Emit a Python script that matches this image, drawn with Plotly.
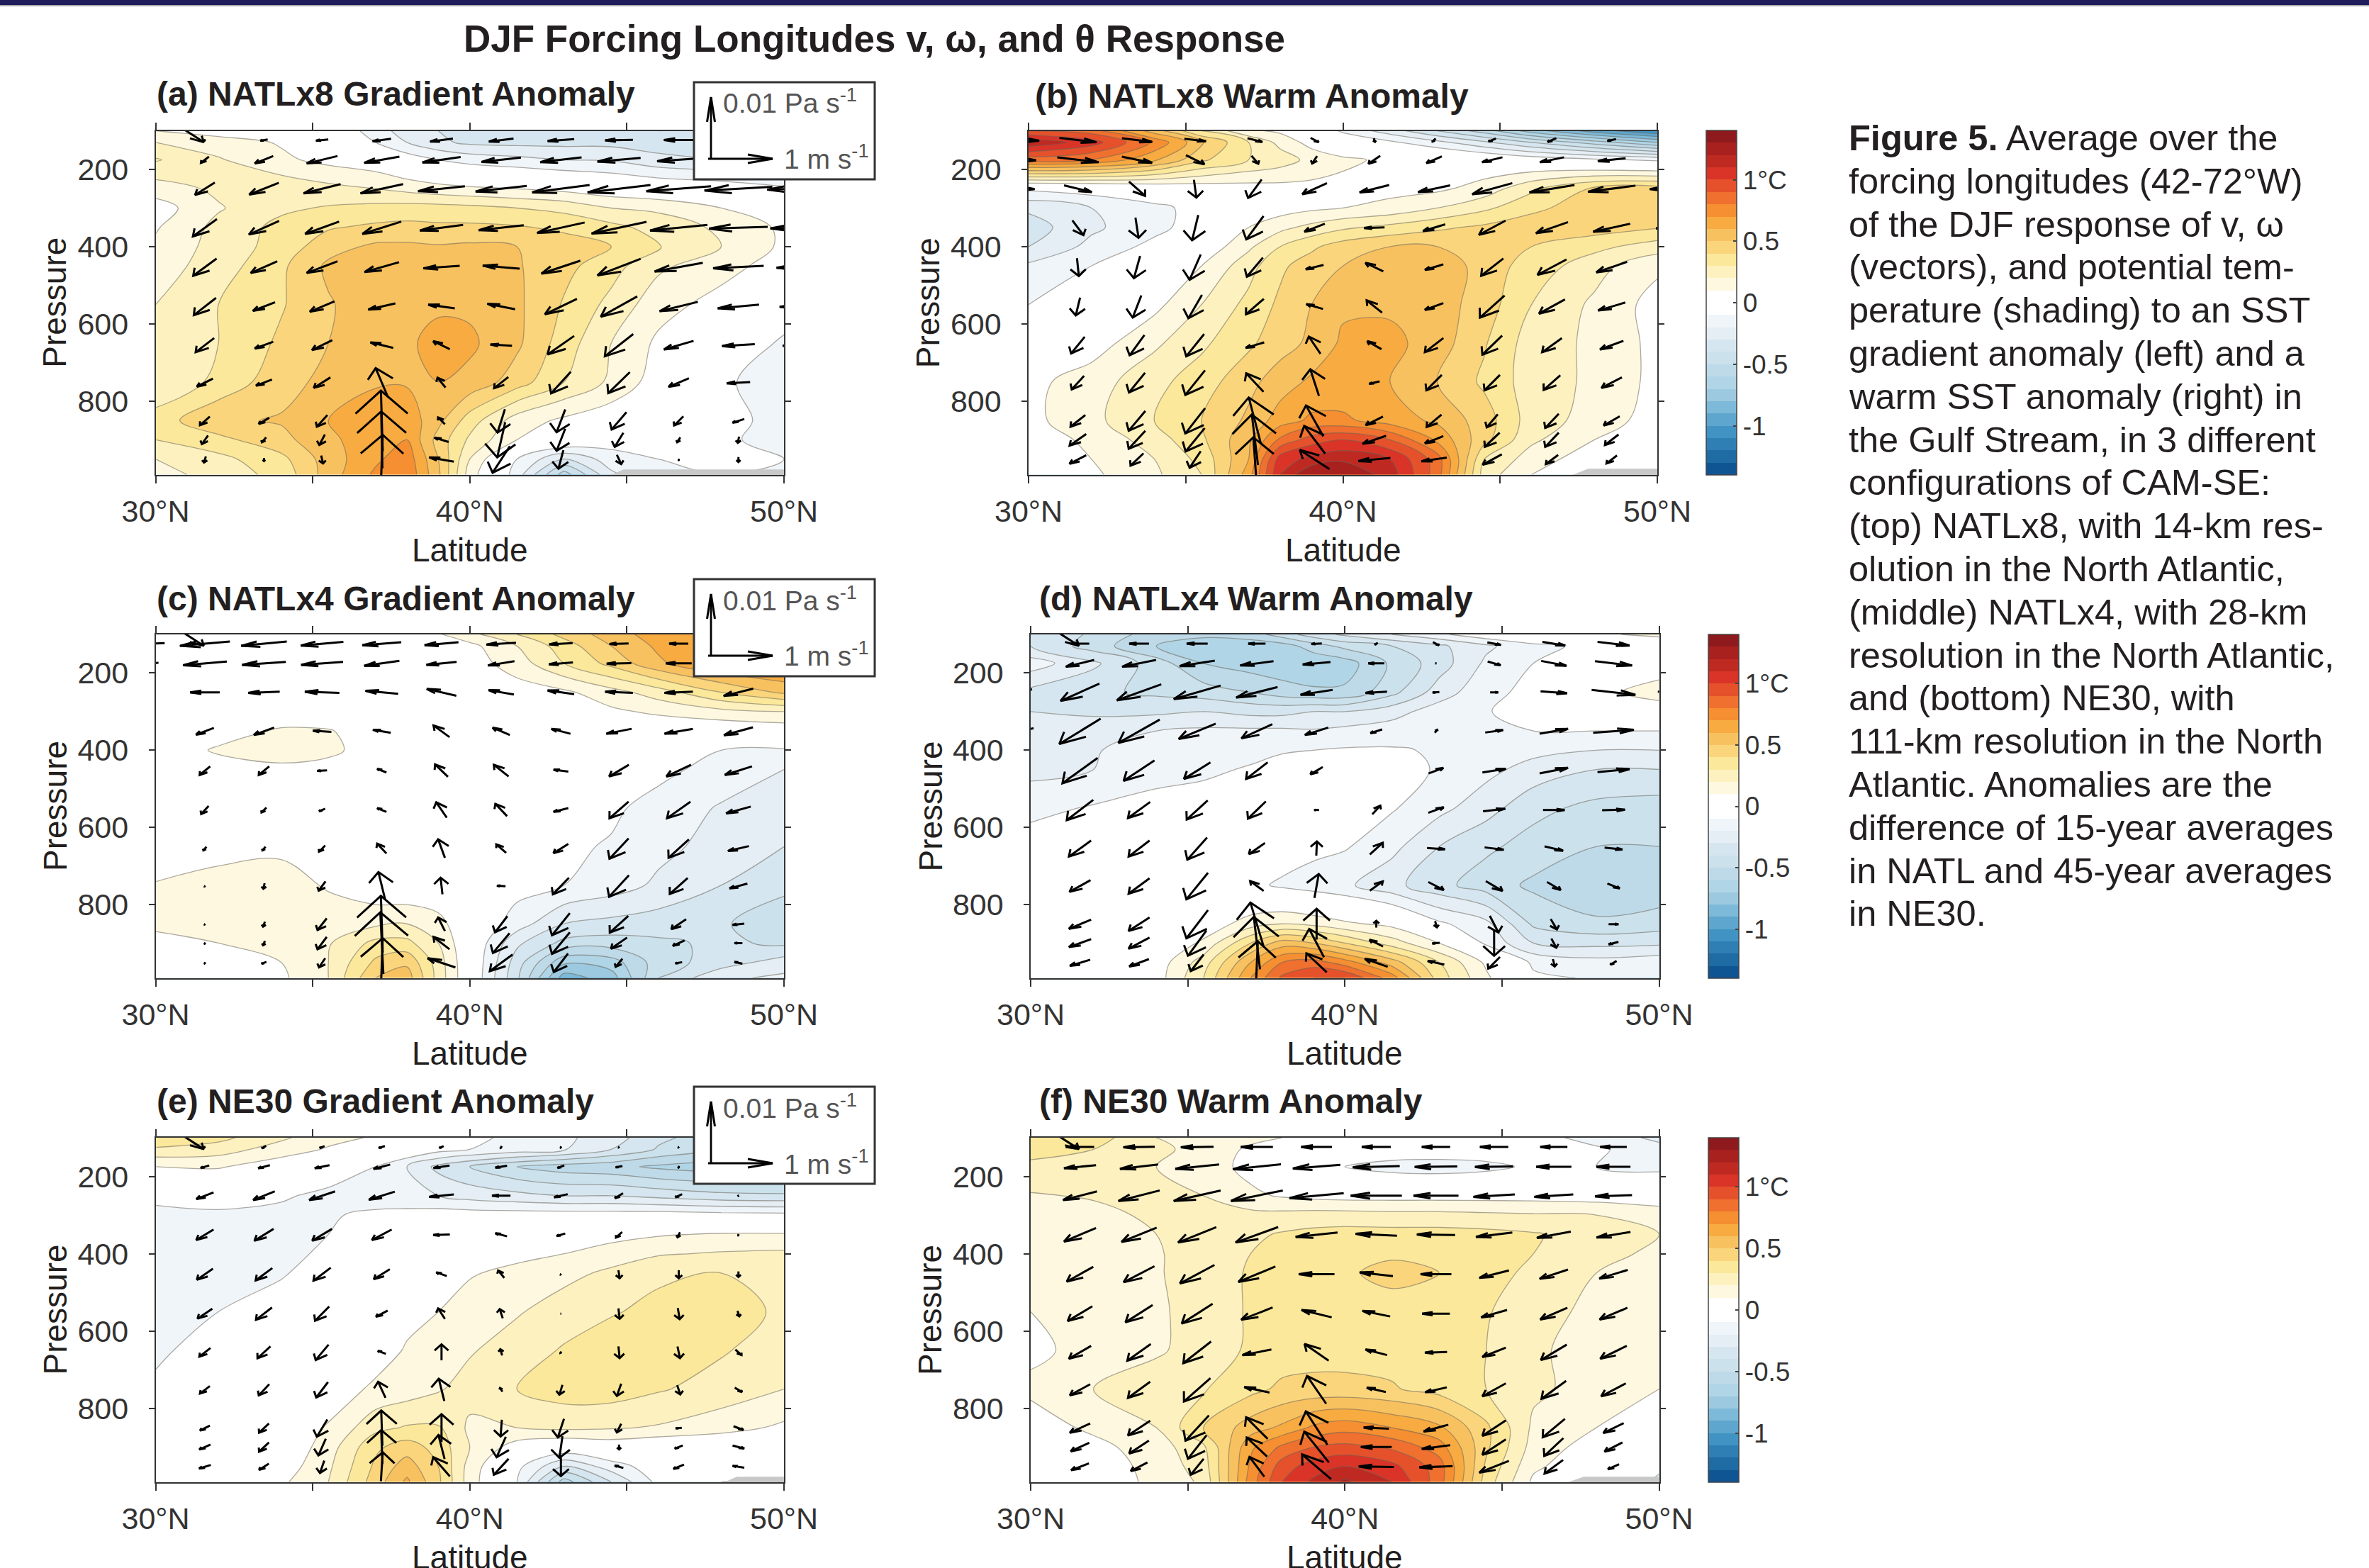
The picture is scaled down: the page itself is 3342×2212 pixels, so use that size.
import plotly.graph_objects as go

W_PX, H_PX = 3342, 2212

# ---- contour grid
lat_grid = [30, 32, 34, 35.5, 37, 38, 39, 40, 41.5, 43, 44.5, 46, 48, 50]
p_grid = [100, 130, 175, 250, 300, 350, 400, 450, 550, 650, 750, 850, 900, 950, 990]

theta_a = [
[.1,.05,.05,0,-.15,-.25,-.3,-.35,-.38,-.38,-.38,-.4,-.4,-.4],
[.2,.15,.09,.02,-.1,-.2,-.28,-.32,-.33,-.33,-.33,-.35,-.37,-.4],
[.31,.21,.12,.07,.03,-.04,-.1,-.14,-.17,-.2,-.21,-.27,-.3,-.32],
[.15,.22,.27,.23,.2,.17,.14,.12,.1,.07,.03,0,-.03,-.08],
[.05,.19,.28,.31,.33,.34,.34,.33,.3,.27,.2,.18,.1,.03],
[.09,.23,.33,.39,.42,.43,.42,.42,.41,.38,.33,.26,.18,.08],
[.12,.24,.34,.46,.52,.52,.51,.52,.5,.45,.4,.31,.2,.08],
[.15,.25,.38,.52,.56,.57,.56,.56,.51,.43,.34,.22,.14,.05],
[.2,.3,.39,.49,.56,.58,.59,.58,.52,.39,.27,.14,.06,-.03],
[.21,.3,.42,.5,.57,.59,.62,.62,.52,.35,.2,.08,0,-.12],
[.2,.33,.46,.53,.59,.59,.6,.57,.45,.3,.18,.05,-.09,-.13],
[.35,.48,.51,.6,.65,.66,.53,.35,.15,.08,.03,-.02,-.08,-.12],
[.3,.37,.47,.57,.68,.7,.46,.28,.1,.03,-.05,-.05,-.09,-.12],
[.2,.27,.37,.55,.68,.76,.5,.2,-.1,-.3,-.15,-.1,-.1,-.1],
[.15,.25,.33,.55,.72,.78,.52,.15,-.15,-.55,-.22,-.12,-.1,-.12]]

theta_b = [
[.9,.85,.55,.3,.12,.08,0,-.12,-.25,-.4,-.55,-.75,-.95,-1.1],
[1.18,1.05,.78,.52,.3,.17,.06,0,-.08,-.17,-.28,-.4,-.55,-.7],
[.85,.8,.62,.42,.3,.25,.17,.12,.08,.06,.02,-.03,-.08,-.12],
[-.08,-.05,0,.03,.05,.06,.07,.07,.07,.08,.14,.28,.42,.45],
[-.28,-.2,-.13,-.06,0,.05,.08,.1,.13,.2,.28,.37,.47,.47],
[-.35,-.22,-.13,-.05,.1,.17,.23,.28,.33,.38,.42,.47,.45,.41],
[-.3,-.17,-.07,.02,.18,.3,.38,.45,.5,.5,.45,.4,.33,.25],
[-.18,-.1,-.02,.1,.26,.38,.45,.5,.56,.58,.45,.36,.24,.12],
[-.1,0,.07,.2,.33,.42,.5,.58,.58,.55,.45,.3,.18,.06],
[0,.05,.18,.28,.38,.46,.52,.62,.63,.55,.41,.25,.18,.07],
[.07,.15,.27,.35,.47,.55,.62,.63,.6,.5,.38,.25,.18,.07],
[.07,.17,.3,.4,.52,.65,.72,.72,.65,.58,.45,.25,.16,.05],
[.05,.12,.25,.38,.58,.82,.95,1.0,.9,.68,.43,.22,.1,.03],
[.05,.1,.2,.33,.6,1.05,1.13,1.18,1.1,.85,.3,.15,.04,-.05],
[.03,.08,.18,.3,.65,1.1,1.3,1.3,1.15,.85,.25,.1,.02,-.12]]

theta_c = [
[0,0,0,0,0,.03,.09,.17,.3,.43,.55,.65,.72,.75],
[0,0,0,0,0,0,.03,.07,.2,.35,.5,.62,.72,.78],
[0,0,0,0,0,0,0,.05,.15,.3,.43,.58,.7,.74],
[0,0,0,0,0,0,0,.02,.05,.08,.16,.25,.4,.52],
[0,0,0,0,0,0,0,0,0,.03,.08,.12,.17,.2],
[0,.03,.12,.11,.03,0,0,0,0,0,0,.01,.01,.03],
[0,.12,.14,.13,.04,0,0,0,0,0,-.03,-.07,-.1,-.11],
[0,.03,.08,.05,0,0,0,0,0,-.02,-.05,-.07,-.14,-.2],
[0,0,0,0,0,0,0,0,-.01,-.03,-.08,-.14,-.21,-.24],
[0,.07,.08,.07,.01,0,0,0,-.03,-.08,-.11,-.17,-.24,-.3],
[.11,.13,.14,.09,.02,0,0,-.02,-.06,-.1,-.15,-.22,-.3,-.36],
[.12,.14,.15,.15,.18,.2,.14,0,-.15,-.3,-.33,-.35,-.38,-.5],
[.07,.1,.14,.19,.33,.33,.2,0,-.28,-.43,-.45,-.42,-.38,-.42],
[.03,.05,.1,.2,.42,.48,.25,0,-.35,-.68,-.65,-.45,-.35,-.25],
[0,.03,.08,.2,.5,.55,.26,0,-.38,-.85,-.75,-.4,-.22,-.18]]

theta_d = [
[-.3,-.42,-.55,-.58,-.55,-.45,-.35,-.28,-.2,-.12,-.03,.02,.08,.13],
[-.3,-.45,-.6,-.65,-.66,-.65,-.55,-.47,-.4,-.32,-.22,-.13,-.07,-.01],
[-.15,-.28,-.45,-.6,-.65,-.67,-.68,-.65,-.48,-.35,-.18,-.1,0,.06],
[-.33,-.38,-.42,-.45,-.5,-.55,-.58,-.58,-.43,-.25,-.13,-.07,.08,.13],
[-.3,-.32,-.32,-.3,-.33,-.33,-.3,-.3,-.24,-.15,-.11,-.03,.01,.06],
[-.25,-.24,-.2,-.18,-.18,-.18,-.19,-.17,-.15,-.12,-.11,-.1,-.1,-.1],
[-.26,-.21,-.14,-.12,-.13,-.11,-.1,-.09,-.09,-.11,-.13,-.17,-.2,-.2],
[-.23,-.2,-.14,-.12,-.09,-.06,-.05,-.05,-.06,-.11,-.17,-.24,-.3,-.3],
[-.13,-.09,-.06,-.05,-.03,0,-.01,-.02,-.09,-.17,-.26,-.37,-.43,-.45],
[-.05,-.04,-.03,-.02,-.02,-.03,-.07,-.09,-.17,-.3,-.38,-.44,-.5,-.5],
[0,0,0,0,-.07,-.12,-.15,-.18,-.27,-.37,-.45,-.52,-.58,-.57],
[0,0,0,.03,.15,.2,.17,.12,.07,-.08,-.17,-.42,-.48,-.45],
[0,0,0,.12,.4,.55,.5,.4,.25,.1,-.12,-.3,-.33,-.32],
[0,0,.04,.25,.6,.8,.85,.75,.55,.3,.08,-.12,-.16,-.13],
[0,0,.05,.3,.7,.92,1.0,1.0,.75,.35,.12,-.08,-.11,-.12]]

theta_e = [
[.4,.33,.22,.13,.09,.05,-.02,-.08,-.12,-.18,-.25,-.38,-.45,-.45],
[.28,.25,.15,.09,.04,0,-.06,-.1,-.14,-.19,-.3,-.41,-.48,-.47],
[.1,.11,.04,-.05,-.1,-.2,-.33,-.4,-.5,-.55,-.57,-.62,-.65,-.65],
[-.08,-.05,-.09,-.12,-.15,-.18,-.2,-.24,-.27,-.3,-.3,-.33,-.37,-.38],
[-.12,-.12,-.12,-.11,-.08,-.06,-.05,-.05,-.05,-.05,-.05,-.05,-.06,-.07],
[-.13,-.13,-.13,-.1,-.02,0,0,0,.02,.03,.06,.09,.11,.11],
[-.15,-.14,-.13,-.08,0,0,.02,.05,.07,.1,.15,.19,.21,.22],
[-.15,-.14,-.11,-.05,0,.03,.06,.09,.13,.17,.22,.28,.3,.24],
[-.14,-.1,-.05,-.01,.03,.07,.1,.15,.19,.25,.29,.33,.35,.28],
[-.12,-.05,0,0,.05,.11,.16,.19,.25,.31,.36,.36,.31,.25],
[-.08,0,0,.04,.12,.15,.19,.24,.3,.35,.35,.31,.26,.2],
[0,0,.03,.11,.27,.31,.31,.18,.2,.22,.21,.19,.14,.08],
[0,0,.01,.15,.38,.45,.36,.2,.05,0,.03,0,0,0],
[0,0,.04,.18,.42,.55,.4,.16,-.07,-.3,-.15,-.04,-.03,-.05],
[0,0,.08,.2,.45,.62,.42,.15,-.1,-.55,-.3,-.07,-.1,-.12]]

theta_f = [
[.38,.35,.2,.18,.13,.1,.05,.03,.02,.01,0,-.05,-.15,-.22],
[.33,.3,.22,.17,.08,0,0,0,-.03,-.03,-.03,-.05,-.08,-.17],
[.28,.25,.2,.15,.07,0,-.03,-.1,-.14,-.15,-.13,-.08,-.1,-.13],
[.19,.21,.22,.2,.12,.09,.07,.06,.06,.06,.06,.06,.05,.04],
[.17,.17,.22,.23,.23,.23,.24,.24,.23,.23,.22,.21,.2,.15],
[.15,.15,.2,.25,.28,.31,.33,.34,.34,.34,.33,.31,.25,.2],
[.14,.15,.19,.25,.3,.35,.37,.38,.39,.38,.37,.3,.23,.18],
[.12,.15,.19,.25,.31,.36,.37,.39,.42,.4,.35,.27,.2,.15],
[.1,.15,.18,.25,.31,.34,.36,.37,.37,.36,.31,.23,.18,.12],
[.08,.13,.19,.23,.32,.35,.36,.36,.36,.34,.3,.22,.15,.12],
[.12,.2,.24,.29,.37,.42,.43,.43,.41,.36,.3,.22,.16,.1],
[.05,.12,.2,.4,.55,.62,.72,.76,.7,.62,.42,.18,.1,.03],
[0,.07,.15,.28,.68,.82,.9,.93,.88,.75,.42,.16,.05,-.03],
[0,.05,.13,.25,.72,.95,1.05,1.1,1.03,.85,.38,.12,.02,-.08],
[0,.05,.12,.22,.75,1.0,1.12,1.22,1.1,.85,.35,.08,0,-.12]]

# ---- vector grid: v in m/s, omega in 0.01 Pa/s
vec_lat = [29.7, 31.57, 33.45, 35.3, 37.2, 39.1, 41.0, 42.9, 44.75, 46.65, 48.55, 50.45]
vec_p = [124, 175, 250, 351, 453, 555, 655, 752, 851, 900, 951]

v_a = [
[0,-.02,-.12,-.2,-.3,-.37,-.4,-.43,-.45,-.48,-.5,-.5],
[0,-.13,-.3,-.5,-.57,-.62,-.64,-.67,-.7,-.7,-.7,-.6],
[0,-.32,-.48,-.6,-.69,-.76,-.83,-.93,-1.02,-1.05,-1.1,-1.0],
[0,-.39,-.49,-.55,-.63,-.7,-.73,-.77,-.89,-.93,-.95,-.9],
[0,-.38,-.43,-.5,-.56,-.59,-.6,-.63,-.7,-.78,-.82,-.7],
[0,-.36,-.36,-.4,-.44,-.43,-.45,-.52,-.59,-.62,-.67,-.6],
[0,-.3,-.3,-.33,-.37,-.27,-.35,-.43,-.46,-.48,-.53,-.5],
[0,-.26,-.26,-.27,-.2,-.13,-.23,-.32,-.35,-.33,-.38,-.1],
[0,-.16,-.17,-.17,-.03,-.11,-.12,-.14,-.24,-.15,-.19,0],
[0,-.1,-.07,-.09,-.02,-.23,-.13,-.14,-.14,-.05,-.02,0],
[0,-.03,0,.03,.03,-.4,-.28,-.08,.07,0,0,0]]
w_a = [
[0,.02,.02,.02,.04,.05,.05,.03,.01,0,0,0],
[0,.1,.12,.12,.1,.09,.07,.08,.06,.05,.03,.01],
[0,.2,.19,.15,.15,.08,.09,.12,.12,.08,.06,.03],
[0,.28,.22,.2,.2,.09,.08,.17,.19,.09,.03,.02],
[0,.28,.19,.19,.16,.04,-.05,.21,.27,.14,.04,.02],
[0,.28,.14,.17,.1,-.06,-.09,.25,.33,.15,.06,.01],
[0,.23,.11,.16,-.09,-.13,-.02,.3,.36,.14,.03,.02],
[0,.13,.1,.17,-.47,-.16,.18,.35,.34,.14,.02,0],
[0,.14,.1,.19,-.98,-.11,.38,.37,.28,.15,.06,0],
[0,.14,.08,.17,-.92,-.07,.57,.36,.23,.08,.1,0],
[0,.1,.05,.13,-.8,-.07,.43,.3,.15,.02,.08,0]]

v_b = [
[.65,.6,.49,.35,.24,.13,.02,-.05,-.12,-.14,-.14,0],
[.55,.67,.49,.3,.11,-.08,-.19,-.25,-.33,-.39,-.45,-.4],
[.5,.45,.26,.04,-.22,-.4,-.48,-.52,-.65,-.73,-.77,-.7],
[0,.18,.05,-.1,-.28,-.33,-.33,-.36,-.43,-.52,-.6,-.5],
[0,.03,-.1,-.18,-.26,-.29,-.29,-.3,-.36,-.47,-.5,-.4],
[0,-.07,-.14,-.22,-.29,-.27,-.25,-.3,-.4,-.42,-.44,-.3],
[0,-.22,-.24,-.29,-.3,-.19,-.23,-.3,-.32,-.32,-.38,-.1],
[0,-.2,-.26,-.32,-.28,-.14,-.17,-.25,-.25,-.27,-.33,0],
[0,-.24,-.27,-.32,-.2,-.28,-.28,-.24,-.18,-.22,-.26,0],
[0,-.27,-.27,-.31,-.1,-.34,-.38,-.3,-.24,-.22,-.22,0],
[0,-.27,-.21,-.18,-.05,-.48,-.52,-.41,-.31,-.2,-.17,0]]
w_b = [
[.02,.07,.06,.04,.06,.07,.06,.05,.05,.06,.03,0],
[.02,.08,.1,.15,.13,.12,.13,.11,.08,.08,.05,.01],
[.01,.11,.23,.29,.3,.18,.12,.11,.18,.12,.1,.01],
[0,.24,.33,.41,.38,.13,.01,.11,.23,.18,.13,.02],
[0,.29,.36,.41,.31,.07,-.14,.09,.28,.25,.17,.01],
[0,.29,.36,.38,.25,-.08,-.2,.11,.36,.23,.13,.01],
[0,.27,.33,.36,.09,-.28,-.13,.23,.31,.23,.14,.01],
[0,.22,.32,.4,-.3,-.43,.04,.25,.25,.24,.17,0],
[0,.19,.32,.41,-.76,-.5,.14,.2,.21,.23,.15,0],
[0,.19,.29,.38,-.82,-.45,.13,.12,.23,.23,.17,0],
[0,.14,.2,.27,-.72,-.31,.05,.06,.17,.15,.13,0]]

v_c = [
[-.6,-.81,-.74,-.69,-.63,-.55,-.48,-.38,-.31,-.31,-.3,0],
[-.4,-.71,-.71,-.68,-.57,-.49,-.43,-.39,-.4,-.42,-.4,0],
[-.1,-.48,-.51,-.56,-.53,-.48,-.41,-.43,-.45,-.46,-.48,-.1],
[0,-.29,-.33,-.3,-.29,-.26,-.28,-.31,-.41,-.46,-.47,-.1],
[0,-.17,-.17,-.16,-.15,-.21,-.24,-.24,-.32,-.4,-.44,0],
[0,-.12,-.08,-.1,-.15,-.17,-.19,-.24,-.31,-.38,-.4,0],
[0,-.05,-.05,-.1,-.15,-.11,-.16,-.24,-.31,-.33,-.34,0],
[0,-.01,-.02,-.11,-.11,-.03,-.14,-.26,-.32,-.29,-.29,0],
[0,-.01,-.03,-.15,-.03,-.11,-.2,-.29,-.3,-.24,-.19,0],
[0,-.01,-.03,-.15,-.05,-.26,-.27,-.29,-.26,-.19,-.13,0],
[0,-.01,-.08,-.1,.03,-.45,-.37,-.23,-.11,-.11,-.13,0]]
w_c = [
[.02,.07,.07,.06,.05,.05,.03,.02,.01,0,0,0],
[.02,.06,.05,.05,.08,.05,.07,.03,.01,0,0,0],
[0,0,.02,-.02,-.05,-.11,-.07,-.06,-.02,.02,.12,0],
[0,.11,.12,-.02,-.05,-.19,-.12,-.08,.08,.08,.13,.01],
[0,.14,.14,.01,-.06,-.2,-.19,-.03,.19,.19,.14,0],
[0,.13,.08,.04,-.06,-.25,-.2,.06,.27,.27,.11,0],
[0,.06,.06,.1,-.16,-.3,-.14,.15,.33,.3,.08,0],
[0,.01,.09,.15,-.45,-.27,-.01,.27,.35,.26,.08,0],
[0,.01,.08,.19,-.92,-.22,.26,.36,.27,.16,.02,0],
[0,.02,.07,.2,-1.0,-.2,.32,.35,.18,.09,0,0],
[0,.02,.03,.15,-.8,-.15,.27,.3,.13,.02,-.03,0]]

v_d = [
[0,-.3,-.32,-.34,-.28,-.17,-.05,.1,.22,.37,.52,.3],
[0,-.46,-.55,-.57,-.54,-.45,-.26,-.02,.21,.41,.6,.3],
[-.35,-.63,-.72,-.76,-.67,-.52,-.35,-.11,.13,.43,.71,.5],
[-.4,-.67,-.67,-.6,-.5,-.38,-.19,.04,.29,.46,.66,.4],
[-.2,-.57,-.5,-.43,-.35,-.2,0,.24,.38,.46,.52,.3],
[-.1,-.43,-.36,-.34,-.29,-.08,.13,.25,.36,.35,.37,.1],
[0,-.36,-.34,-.32,-.26,.01,.21,.29,.31,.3,.29,0],
[0,-.34,-.34,-.35,-.22,.07,.21,.25,.27,.22,.2,0],
[0,-.36,-.34,-.35,-.21,0,0,.03,.14,.1,.16,0],
[0,-.36,-.34,-.3,-.1,-.24,-.22,-.12,0,.08,-.16,0],
[0,-.33,-.32,-.21,.03,-.33,-.37,-.27,-.19,.03,-.1,0]]
w_d = [
[0,0,0,0,0,.01,.03,.05,.04,.06,.06,.02],
[0,.11,.11,.09,.07,.04,0,0,.06,.08,.07,.01],
[.1,.28,.26,.22,.17,.08,.02,.01,0,.03,.08,.02],
[.1,.41,.38,.25,.23,.12,.06,-.05,-.04,-.08,-.05,0],
[.1,.41,.33,.27,.27,.12,0,-.09,-.06,-.09,-.05,0],
[.05,.33,.26,.31,.28,0,-.14,-.09,-.04,0,-.01,0],
[0,.26,.26,.36,.18,-.23,-.19,.02,.04,.07,.03,0],
[0,.19,.25,.43,-.16,-.39,-.15,.13,.16,.13,.08,0],
[0,.15,.22,.46,-.7,-.5,-.11,.1,.27,.17,0,0],
[0,.13,.18,.41,-.85,-.46,-.11,.01,.41,.15,.04,0],
[0,.1,.12,.27,-.7,-.31,-.13,-.06,.19,.12,.06,0]]

v_e = [
[0,-.02,-.07,-.08,-.1,-.07,-.02,-.01,-.01,-.01,0,0],
[0,-.14,-.19,-.24,-.27,-.26,-.19,-.11,-.11,-.01,0,0],
[0,-.28,-.35,-.42,-.42,-.4,-.3,-.22,-.13,-.11,-.02,0],
[0,-.28,-.31,-.32,-.32,-.27,-.19,-.14,-.1,-.04,-.01,0],
[0,-.26,-.27,-.28,-.26,-.17,-.1,-.01,.02,0,0,0],
[0,-.24,-.26,-.23,-.19,-.11,-.05,-.01,.02,.03,.03,0],
[0,-.18,-.21,-.21,-.13,0,-.03,-.02,.02,.04,.1,0],
[0,-.16,-.17,-.19,-.12,-.09,-.04,-.05,-.07,.05,.12,0],
[0,-.16,-.16,-.17,-.02,0,-.02,-.1,-.07,-.1,.16,0],
[0,-.18,-.16,-.12,-.02,-.1,-.15,-.05,0,-.13,.19,0],
[0,-.19,-.16,-.07,.03,-.27,-.24,0,-.14,-.17,-.19,0]]
w_e = [
[0,.01,.04,.03,.03,.03,.03,.02,.01,.01,0,0],
[0,.04,.05,.05,.07,.04,.03,.04,.02,.03,0,0],
[0,.11,.14,.14,.13,.04,0,.05,.08,.05,.01,0],
[0,.17,.19,.19,.17,.01,-.05,.04,.09,.08,.02,0],
[0,.18,.2,.21,.16,-.06,-.12,.01,.13,.13,.09,0],
[0,.16,.2,.23,.1,-.17,-.15,0,.17,.18,.09,0],
[0,.14,.19,.25,-.05,-.26,-.1,.02,.19,.19,.09,0],
[0,.12,.18,.25,-.26,-.36,-.06,.16,.2,.15,.07,0],
[0,.08,.15,.28,-.57,-.45,.27,.3,.14,.01,.06,0],
[0,.08,.15,.27,-.55,-.39,.33,.35,.08,.05,.05,0],
[0,.06,.1,.2,-.47,-.31,.26,.3,-.04,.07,-.03,0]]

v_f = [
[0,-.46,-.51,-.53,-.52,-.5,-.47,-.46,-.46,-.44,-.43,0],
[0,-.52,-.62,-.71,-.78,-.77,-.76,-.69,-.62,-.57,-.55,-.1],
[-.1,-.55,-.67,-.76,-.84,-.88,-.83,-.73,-.67,-.63,-.6,-.3],
[-.1,-.52,-.57,-.62,-.69,-.68,-.67,-.62,-.59,-.55,-.55,-.1],
[-.1,-.43,-.5,-.56,-.6,-.58,-.54,-.5,-.48,-.46,-.46,-.1],
[-.1,-.4,-.44,-.5,-.51,-.49,-.45,-.45,-.42,-.44,-.45,-.1],
[0,-.36,-.38,-.45,-.47,-.39,-.35,-.36,-.38,-.42,-.43,0],
[0,-.33,-.36,-.43,-.41,-.31,-.31,-.35,-.38,-.4,-.4,0],
[0,-.33,-.36,-.38,-.35,-.35,-.41,-.4,-.38,-.36,-.33,0],
[0,-.3,-.32,-.3,-.33,-.4,-.5,-.46,-.38,-.31,-.29,0],
[0,-.29,-.27,-.21,-.24,-.47,-.57,-.54,-.48,-.3,-.18,0]]
w_f = [
[0,0,.01,.01,0,0,0,0,0,0,0,0],
[0,.05,.07,.07,.08,.06,.02,.01,.01,0,0,0],
[0,.14,.17,.17,.17,.08,0,0,.04,.04,.02,0],
[0,.22,.23,.25,.25,.07,-.03,-.01,.07,.1,.09,0],
[0,.24,.26,.3,.25,0,-.06,0,.12,.15,.14,0],
[0,.24,.28,.32,.2,-.12,-.09,0,.12,.19,.19,0],
[0,.21,.27,.35,.09,-.27,-.09,.01,.15,.25,.21,0],
[0,.18,.26,.38,-.09,-.45,-.07,.08,.21,.29,.21,0],
[0,.15,.24,.41,-.35,-.54,-.02,.11,.25,.3,.16,0],
[0,.14,.21,.38,-.31,-.5,0,.06,.25,.29,.15,0],
[0,.11,.14,.26,-.32,-.4,-.01,.02,.19,.22,.08,0]]

# extra arrow poking out of the top of each panel (not in panel b)
corner_lat, corner_p, corner_v, corner_w = 31.2, 112, 0.34, 0.22

# surface mask polygons
mask_a = ([44.5, 44.9, 50, 50], [991, 977, 977, 991])
mask_b = ([47.3, 47.8, 50, 50], [991, 975, 975, 991])
mask_c = ([30, 50], [991, 991])
mask_d = ([30, 50], [991, 991])
mask_e = ([48.1, 48.5, 50, 50], [991, 977, 977, 991])
mask_f = ([47.1, 47.6, 50, 50], [991, 977, 977, 991])

# ---- colours
band_colors = ["#0F5594","#1F6BA3","#2F7FB5","#4193C3","#5EA6CE","#7DB9D8","#9CC9DF","#B0D5E6","#BEDAE9",
               "#CBE1EC","#D6E6F0","#E4EEF4","#F0F5FA","#FFFFFF","#FFFFFF","#FEF8E0","#FDF1BF","#FBE89B",
               "#FAD57C","#F8C160","#F7AB40","#F58F31","#EF702F","#E5512B","#D93427","#BE2A22","#A8211F","#8F1A1E"]
colorscale = [[i / 27, c] for i, c in enumerate(band_colors)]

x_tick_vals = [30, 40, 50]
x_tick_text = ["30°N", "40°N", "50°N"]
x_minor_vals = [35, 45]
y_tick_vals = [200, 400, 600, 800]
cb_tick_vals = [-1, -0.5, 0, 0.5, 1]
cb_tick_text = ["-1", "-0.5", "0", "0.5", "1°C"]

panels = [
 ("a", "(a) NATLx8 Gradient Anomaly", theta_a, v_a, w_a, mask_a, 219.5, 1106, 184.5, 670, 219, 132, True, 116),
 ("b", "(b) NATLx8 Warm Anomaly", theta_b, v_b, w_b, mask_b, 1451, 2338, 184.5, 670, 1458, 136, False, None),
 ("c", "(c) NATLx4 Gradient Anomaly", theta_c, v_c, w_c, mask_c, 219.5, 1106, 895, 1380, 219, 844, True, 817),
 ("d", "(d) NATLx4 Warm Anomaly", theta_d, v_d, w_d, mask_d, 1454, 2340.5, 895, 1380, 1464, 844, True, None),
 ("e", "(e) NE30 Gradient Anomaly", theta_e, v_e, w_e, mask_e, 219.5, 1106, 1605, 2091, 219, 1553, True, 1533),
 ("f", "(f) NE30 Warm Anomaly", theta_f, v_f, w_f, mask_f, 1454, 2340.5, 1605, 2091, 1464, 1553, True, None),
]

TXT = "#231F20"
FONT = "Liberation Sans"
M_PER_PX = 87.0       # 1 m/s and 0.01 Pa/s are both this many pixels long
HEAD_BACK, HEAD_W, ANISO = 0.38, 0.16, 2.7
SX, SY = 886.5 / 20.0, 485.5 / 891.0


def arrows(lats, ps, vv, ww):
    xs, ys = [], []
    for lat, p, v, w in zip(lats, ps, vv, ww):
        dx, dy = v * M_PER_PX, w * M_PER_PX
        if dx == 0 and dy == 0:
            continue
        tx, ty = lat + 0.5 * dx / SX, p + 0.5 * dy / SY
        bx, by = lat - 0.5 * dx / SX, p - 0.5 * dy / SY
        px, py = -dy * ANISO * HEAD_W, dx / ANISO * HEAD_W
        kx, ky = -HEAD_BACK * dx, -HEAD_BACK * dy
        xs += [bx, tx, None, tx + (kx + px) / SX, tx, tx + (kx - px) / SX, None]
        ys += [by, ty, None, ty + (ky + py) / SY, ty, ty + (ky - py) / SY, None]
    return xs, ys


fig = go.Figure()
shapes, annos, layout = [], [], {}


def fx(x):
    return x / W_PX


def fy(y):
    return 1 - y / H_PX


def rect(x0, y0, x1, y1, fill, line=None, lw=0):
    shapes.append(dict(type="rect", xref="paper", yref="paper", x0=fx(x0), x1=fx(x1), y0=fy(y0), y1=fy(y1),
                       fillcolor=fill, line=dict(color=line or fill, width=lw), layer="above"))


def seg(pts, width=2.8):
    path = "M " + " L ".join(f"{fx(a):.5f},{fy(b):.5f}" for a, b in pts)
    shapes.append(dict(type="path", xref="paper", yref="paper", path=path, line=dict(color="black", width=width),
                       layer="above"))


def text(x, y, s, size, color=TXT, anchor="left", angle=0, bold=False):
    annos.append(dict(x=fx(x), y=fy(y), xref="paper", yref="paper", text=f"<b>{s}</b>" if bold else s,
                      showarrow=False, xanchor=anchor, yanchor="middle", textangle=angle,
                      font=dict(family=FONT, size=size, color=color)))


for i, (key, title, z, vv, ww, mask, x0, x1, y0, y1, tx, ty, corner, key_top) in enumerate(panels):
    n = "" if i == 0 else str(i + 1)
    xa, ya = "x" + n, "y" + n
    fill = dict(type="contour", x=lat_grid, y=p_grid, z=z, xaxis=xa, yaxis=ya, hoverinfo="skip",
                colorscale=colorscale, zmin=-1.4, zmax=1.4, autocontour=False,
                contours=dict(start=-1.3, end=1.3, size=0.1, coloring="fill", showlines=False),
                line=dict(width=0), showscale=key in "bdf")
    if key in "bdf":
        fill["colorbar"] = dict(x=fx(x1 + 69), xanchor="left", xpad=0, y=fy((y0 + y1) / 2), yanchor="middle", ypad=0,
                                lenmode="pixels", len=y1 - y0, thicknessmode="pixels", thickness=43,
                                tickmode="array", tickvals=cb_tick_vals, ticktext=cb_tick_text, ticks="inside",
                                ticklen=5, tickwidth=1.5, tickcolor="#444",
                                tickfont=dict(family=FONT, size=37, color="#333"),
                                outlinecolor="#444", outlinewidth=1.5, ticklabelposition="outside")
    fig.add_trace(go.Contour(**fill))
    for start, end in ((0.1, 1.3), (-1.3, -0.1)):
        fig.add_trace(go.Contour(x=lat_grid, y=p_grid, z=z, xaxis=xa, yaxis=ya, hoverinfo="skip", showscale=False,
                                 autocontour=False, contours=dict(start=start, end=end, size=0.1, coloring="none"),
                                 line=dict(color="rgba(105,100,90,0.55)", width=1.3)))
    if len(mask[0]) > 2:
        fig.add_trace(go.Scatter(x=mask[0], y=mask[1], xaxis=xa, yaxis=ya, mode="lines", fill="toself",
                                 fillcolor="#C8C8C8", line=dict(width=0), hoverinfo="skip", showlegend=False))
    lats, ps, vs, ws = [], [], [], []
    for r, p in enumerate(vec_p):
        for c, lat in enumerate(vec_lat):
            lats.append(lat); ps.append(p); vs.append(vv[r][c]); ws.append(ww[r][c])
    if corner:
        lats.append(corner_lat); ps.append(corner_p); vs.append(corner_v); ws.append(corner_w)
    ax, ay = arrows(lats, ps, vs, ws)
    fig.add_trace(go.Scatter(x=ax, y=ay, xaxis=xa, yaxis=ya, mode="lines", hoverinfo="skip", showlegend=False,
                             line=dict(color="black", width=3), connectgaps=False))
    common = dict(showgrid=False, zeroline=False, showline=True, linecolor="#333", linewidth=1.5, mirror="allticks",
                  automargin=False, ticks="outside", tickcolor="#333", tickwidth=1.5,
                  tickfont=dict(family=FONT, size=43, color="#333"))
    layout["xaxis" + n] = dict(common, domain=[fx(x0), fx(x1)], range=[30, 50], anchor=ya, tickmode="array",
                               tickvals=x_tick_vals, ticktext=x_tick_text, ticklen=10, ticklabelstandoff=3,
                               minor=dict(tickmode="array", tickvals=x_minor_vals, ticks="outside", ticklen=10,
                                          tickwidth=1.5, tickcolor="#333", showgrid=False))
    layout["yaxis" + n] = dict(common, domain=[fy(y1), fy(y0)], range=[991, 100], anchor=xa, tickmode="array",
                               tickvals=y_tick_vals, ticklen=8, ticklabelstandoff=20)
    text(tx, ty, title, 48, bold=True)
    text((x0 + x1) / 2, y1 + 106, "Latitude", 46, anchor="center")
    text(x0 - 142, (y0 + y1) / 2, "Pressure", 46, anchor="center", angle=-90)
    if key_top is not None:
        # reference-vector key
        rect(979, key_top, 1234, key_top + 137, "white", "#333", 3)
        ox, oy = 1003, key_top + 108
        L = 1.0 * M_PER_PX
        seg([(ox, oy), (ox, oy - L)])
        seg([(ox - 5.5, oy - L + 35), (ox, oy - L), (ox + 5.5, oy - L + 35)], 3)
        seg([(ox - 4, oy), (ox + L, oy)])
        seg([(ox + L - 35, oy - 6), (ox + L, oy), (ox + L - 35, oy + 6)], 3)
        text(1018, key_top + 27, "0.01 Pa s<sup>-1</sup>", 39, color="#555")
        text(1104, key_top + 106, "1 m s<sup>-1</sup>", 39, color="#555")

# page furniture
shapes.insert(0, dict(type="rect", xref="paper", yref="paper", x0=0, x1=1, y0=fy(7), y1=1, fillcolor="#1F1D5B",
                      line=dict(width=0), layer="above"))
shapes.insert(1, dict(type="rect", xref="paper", yref="paper", x0=0, x1=1, y0=fy(9), y1=fy(7), fillcolor="#AAAAAA",
                      line=dict(width=0), layer="above"))
text(652, 55, "DJF Forcing Longitudes v, ω, and θ Response", 53, bold=True)

caption_lines = ["<b>Figure 5.</b> Average over the", "forcing longitudes (42-72°W)", "of the DJF response of v, ω",
                 "(vectors), and potential tem-", "perature (shading) to an SST", "gradient anomaly (left) and a",
                 "warm SST anomaly (right) in", "the Gulf Stream, in 3 different", "configurations of CAM-SE:",
                 "(top) NATLx8, with 14-km res-", "olution in the North Atlantic,", "(middle) NATLx4, with 28-km",
                 "resolution in the North Atlantic,", "and (bottom) NE30, with", "111-km resolution in the North",
                 "Atlantic. Anomalies are the", "difference of 15-year averages", "in NATL and 45-year averages",
                 "in NE30."]
for i, line in enumerate(caption_lines):
    text(2606, 194.5 + 60.8 * i, line, 50.5)

fig.update_layout(width=W_PX, height=H_PX, margin=dict(l=0, r=0, t=0, b=0, autoexpand=False), paper_bgcolor="white",
                  plot_bgcolor="white", showlegend=False, shapes=shapes, annotations=annos,
                  font=dict(family=FONT, color=TXT), **layout)
fig.write_html("out.html", post_script="document.body.style.margin='0';", config={"displayModeBar": False})
